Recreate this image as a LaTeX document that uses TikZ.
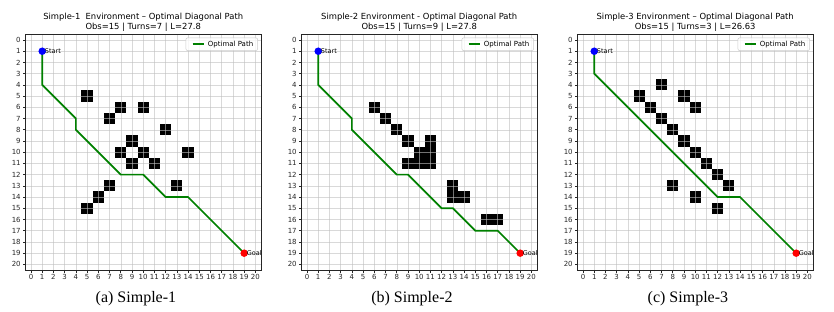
\documentclass[tikz,border=0pt]{standalone}
\usepackage{fontspec}
\setmainfont{Liberation Serif}
\setsansfont{DejaVu Sans}
\usetikzlibrary{positioning}

\definecolor{pathgreen}{RGB}{0,128,0}

\tikzset{
  gridline/.style={draw=black!25, opacity=0.6, line width=0.5pt},
  axisframe/.style={draw=black!85, line width=0.6pt},
  tickmark/.style={draw=black!85, line width=0.55pt},
  ticklabel/.style={font=\sffamily\fontsize{7}{8}\selectfont, text=black!85, inner sep=0pt},
  plottitle/.style={font=\sffamily\fontsize{8.4}{10}\selectfont, anchor=base, inner sep=0pt},
  captext/.style={font=\fontsize{16}{18}\selectfont, anchor=base, inner sep=0pt},
  optpath/.style={draw=pathgreen, line width=1.7pt},
  legendbox/.style={draw=black!20, fill=white, fill opacity=0.8, rounded corners=2pt, line width=0.5pt},
  marker/.style={circle, inner sep=0pt, minimum size=7.5pt},
  ptlabel/.style={font=\sffamily\fontsize{6.5}{7}\selectfont, inner sep=0pt}
}

% #1 index, #2 left offset, #3/#4 title lines, #5 obstacles, #6 path corners, #7 caption
\newcommand{\envpanel}[7]{%
  \begin{scope}[shift={(#2pt,-40pt)}, x=11.22pt, y=-11.22pt]
    % obstacles
    \foreach \cx/\cy in {#5}
      \fill (\cx-0.5,\cy-0.5) rectangle (\cx+0.5,\cy+0.5);
    % grid and ticks
    \foreach \i in {0,...,20} {
      \draw[gridline] (\i,-0.5) -- (\i,20.5);
      \draw[gridline] (-0.5,\i) -- (20.5,\i);
      \draw[tickmark] (\i,20.5) -- ++(0,-2.5pt);
      \draw[tickmark] (-0.5,\i) -- ++(-2.5pt,0);
      \node[ticklabel, anchor=north] at ([yshift=-4.5pt]\i,20.5) {\i};
      \node[ticklabel, anchor=east] at ([xshift=-4.5pt]-0.5,\i) {\i};
    }
    \draw[axisframe] (-0.5,-0.5) rectangle (20.5,20.5);
    % path
    \coordinate (s#1) at (1,1);
    \coordinate (g#1) at (19,19);
    \draw[optpath] (s#1) -- #6 -- (g#1);
    \node[marker, fill=blue] at (s#1) {};
    \node[marker, fill=red] at (g#1) {};
    \node[ptlabel, right=2.5pt of s#1] {Start};
    \node[ptlabel, right=2.5pt of g#1] {Goal};
    % legend
    \draw[legendbox] (13.8,-0.2) rectangle (20.2,0.95);
    \draw[optpath] (14.4,0.38) -- (15.4,0.38);
    \node[ticklabel, anchor=west, text=black] at (15.75,0.38) {Optimal Path};
    % titles
    \node[plottitle] at (10,-1.79) {#3};
    \node[plottitle] at (10,-0.93) {#4};
    \node[captext] at (9.35,23.41) {#7};
  \end{scope}
}

\begin{document}
\begin{tikzpicture}
  \useasboundingbox (0pt,0pt) rectangle (834pt,-312pt);

  \envpanel{1}{31}{Simple-1~ Environment – Optimal Diagonal Path}{Obs=15 | Turns=7 | L=27.8}
    {5/5, 8/6, 10/6, 7/7, 12/8, 9/9, 8/10, 10/10, 14/10, 9/11, 11/11, 13/13, 7/13, 6/14, 5/15}
    {(1,4) -- (4,7) -- (4,8) -- (8,12) -- (10,12) -- (12,14) -- (14,14)}
    {(a) Simple-1}

  \envpanel{2}{307}{Simple-2 Environment - Optimal Diagonal Path}{Obs=15 | Turns=9 | L=27.8}
    {6/6, 7/7, 8/8, 9/9, 11/9, 10/10, 11/10, 9/11, 10/11, 11/11, 13/13, 13/14, 14/14, 16/16, 17/16}
    {(1,4) -- (4,7) -- (4,8) -- (8,12) -- (9,12) -- (12,15) -- (13,15) -- (15,17) -- (17,17)}
    {(b) Simple-2}

  \envpanel{3}{583}{Simple-3 Environment – Optimal Diagonal Path}{Obs=15 | Turns=3 | L=26.63}
    {7/4, 5/5, 9/5, 6/6, 10/6, 7/7, 8/8, 9/9, 10/10, 11/11, 12/12, 13/13, 8/13, 10/14, 12/15}
    {(1,3) -- (12,14) -- (14,14)}
    {(c) Simple-3}
\end{tikzpicture}
\end{document}
